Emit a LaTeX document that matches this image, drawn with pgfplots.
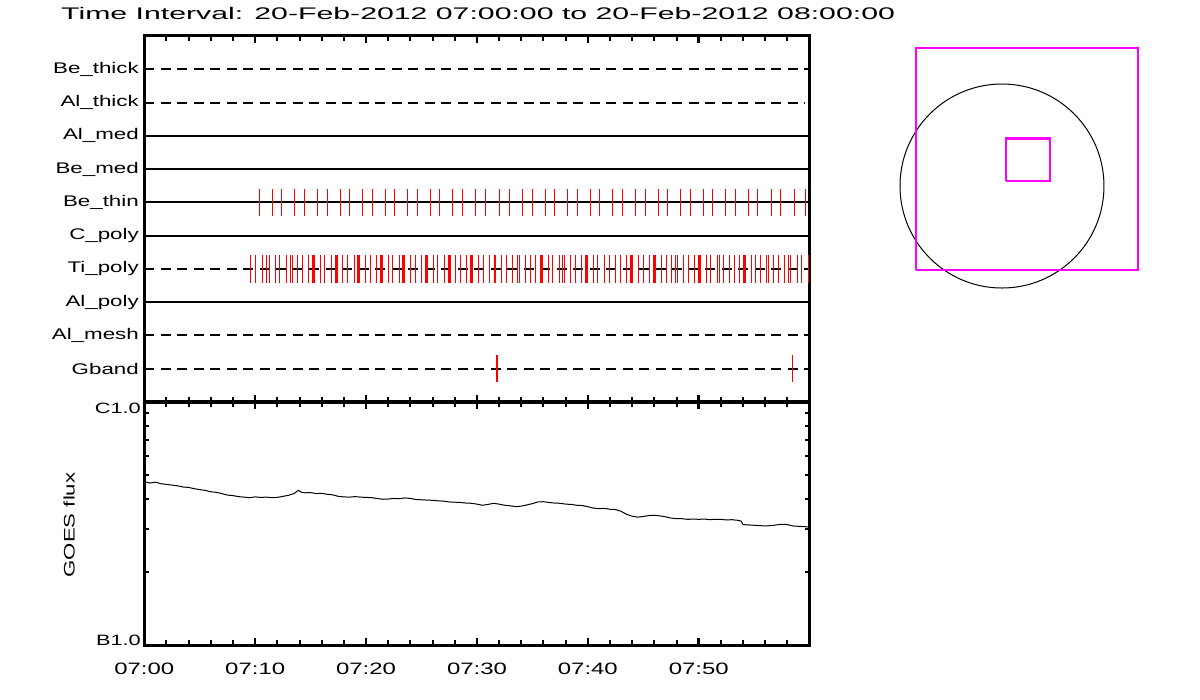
\documentclass[border=0pt]{standalone}
\usepackage{fontspec}
\setmainfont[FakeStretch=1.45]{Liberation Sans}
\newfontfamily\titlefont[FakeStretch=1.8]{Liberation Sans}
\usepackage{pgfplots}
\usepackage{pgfplotstable}
\pgfplotsset{compat=1.18}
\definecolor{mag}{RGB}{255,0,255}

% event times in minutes after 07:00, and row of the filter
\pgfplotstableread{
t row
10.37 6
11.54 6
12.35 6
13.53 6
14.43 6
15.60 6
16.50 6
17.67 6
18.49 6
19.66 6
20.56 6
21.73 6
22.54 6
23.72 6
24.62 6
25.79 6
26.60 6
27.77 6
28.67 6
29.85 6
30.75 6
32.01 6
32.91 6
34.09 6
34.99 6
36.16 6
36.97 6
38.14 6
39.04 6
40.22 6
41.03 6
42.20 6
43.10 6
44.27 6
45.18 6
46.35 6
47.16 6
48.33 6
49.23 6
50.41 6
51.22 6
52.39 6
53.29 6
54.46 6
55.27 6
56.54 6
57.35 6
58.61 6
59.60 6
}\bethin

\pgfplotstableread{
t row
9.56 4
10.01 4
10.64 4
11.00 4
11.27 4
11.81 4
12.17 4
12.80 4
13.17 4
13.35 4
13.80 4
14.25 4
14.79 4
15.21 4
15.36 4
15.87 4
16.23 4
16.86 4
17.29 4
17.42 4
17.85 4
18.30 4
18.94 4
19.27 4
19.40 4
19.93 4
20.38 4
20.92 4
21.34 4
21.48 4
22.00 4
22.36 4
22.99 4
23.33 4
23.46 4
23.99 4
24.44 4
24.98 4
25.40 4
25.54 4
26.06 4
26.42 4
27.05 4
27.48 4
27.61 4
28.04 4
28.49 4
29.04 4
29.46 4
29.59 4
30.12 4
30.57 4
31.11 4
31.56 4
31.70 4
32.19 4
32.64 4
33.18 4
33.63 4
33.81 4
34.35 4
34.81 4
35.26 4
35.77 4
35.91 4
36.43 4
36.79 4
37.42 4
37.75 4
37.89 4
38.41 4
38.86 4
39.40 4
39.83 4
39.96 4
40.49 4
40.85 4
41.48 4
41.93 4
42.47 4
42.92 4
43.46 4
43.89 4
44.02 4
44.54 4
45.00 4
45.54 4
45.96 4
46.10 4
46.62 4
47.07 4
47.52 4
47.94 4
48.08 4
48.60 4
49.05 4
49.59 4
50.02 4
50.15 4
50.68 4
51.04 4
51.67 4
51.91 4
52.21 4
52.75 4
53.20 4
53.65 4
54.08 4
54.21 4
54.73 4
55.10 4
55.55 4
56.09 4
56.27 4
56.72 4
57.17 4
57.71 4
58.13 4
58.27 4
58.88 4
59.24 4
59.87 4
}\tipoly

\pgfplotstableread{
t row
31.80 1
58.43 1
}\gband

\pgfplotstableread{
t flux
0.0 4.70e-7
0.5 4.64e-7
1.0 4.68e-7
1.5 4.61e-7
2.0 4.58e-7
2.5 4.55e-7
3.0 4.52e-7
3.5 4.47e-7
4.0 4.45e-7
4.5 4.40e-7
5.0 4.36e-7
5.5 4.33e-7
6.0 4.27e-7
6.5 4.25e-7
7.0 4.20e-7
7.5 4.14e-7
8.0 4.12e-7
8.5 4.08e-7
9.0 4.06e-7
9.5 4.04e-7
10.0 4.07e-7
10.5 4.05e-7
11.0 4.06e-7
11.5 4.04e-7
12.0 4.05e-7
12.5 4.09e-7
13.0 4.13e-7
13.5 4.20e-7
13.9 4.33e-7
14.2 4.25e-7
14.5 4.23e-7
15.0 4.24e-7
15.5 4.20e-7
16.0 4.21e-7
16.5 4.17e-7
17.0 4.15e-7
17.5 4.09e-7
18.0 4.07e-7
18.5 4.06e-7
19.0 4.08e-7
19.5 4.06e-7
20.0 4.05e-7
20.5 4.04e-7
21.0 4.01e-7
21.5 3.98e-7
22.0 3.99e-7
22.5 4.01e-7
23.0 4.00e-7
23.5 4.03e-7
24.0 4.01e-7
24.5 3.97e-7
25.0 3.96e-7
25.5 3.95e-7
26.0 3.94e-7
26.5 3.92e-7
27.0 3.91e-7
27.5 3.88e-7
28.0 3.87e-7
28.5 3.86e-7
29.0 3.84e-7
29.5 3.83e-7
30.0 3.80e-7
30.5 3.76e-7
31.0 3.79e-7
31.5 3.83e-7
32.0 3.80e-7
32.5 3.76e-7
33.0 3.74e-7
33.5 3.71e-7
34.0 3.73e-7
34.5 3.77e-7
35.0 3.82e-7
35.5 3.88e-7
36.0 3.89e-7
36.5 3.86e-7
37.0 3.84e-7
37.5 3.83e-7
38.0 3.80e-7
38.5 3.79e-7
39.0 3.76e-7
39.5 3.75e-7
40.0 3.71e-7
40.5 3.66e-7
41.0 3.64e-7
41.5 3.65e-7
42.0 3.62e-7
42.5 3.61e-7
43.0 3.55e-7
43.5 3.45e-7
44.0 3.39e-7
44.5 3.36e-7
45.0 3.38e-7
45.5 3.41e-7
46.0 3.42e-7
46.5 3.40e-7
47.0 3.37e-7
47.5 3.33e-7
48.0 3.31e-7
48.5 3.31e-7
49.0 3.29e-7
49.5 3.30e-7
50.0 3.29e-7
50.5 3.30e-7
51.0 3.28e-7
51.5 3.29e-7
52.0 3.29e-7
52.5 3.27e-7
53.0 3.28e-7
53.5 3.26e-7
53.8 3.24e-7
54.0 3.13e-7
54.5 3.12e-7
55.0 3.11e-7
55.5 3.10e-7
56.0 3.09e-7
56.5 3.10e-7
57.0 3.12e-7
57.5 3.14e-7
58.0 3.13e-7
58.5 3.09e-7
59.0 3.08e-7
59.5 3.07e-7
60.0 3.06e-7
}\goes

\pgfplotsset{
  panel/.style={
    scale only axis,
    width=665.3pt,
    xmin=0, xmax=60,
    axis line style={line width=3pt, line cap=rect},
    tick align=inside,
    major tick length=7pt,
    minor tick length=5pt,
    every major tick/.append style={line width=2.5pt, black},
    every minor tick/.append style={line width=2pt, black},
    xtick={0,10,20,30,40,50,60},
    minor xtick={2,4,6,8,12,14,16,18,22,24,26,28,32,34,36,38,42,44,46,48,52,54,56,58},
    xtick pos=both,
  },
  row/.style={line width=2pt, black, forget plot},
  dashrow/.style={line width=2pt, black, dash pattern=on 10pt off 6.5pt, forget plot},
  ev/.style={only marks, mark=|, mark size=13.5pt, red, mark options={line width=1.2pt, red}, forget plot},
}

\begin{document}
\begin{tikzpicture}
\useasboundingbox (0,0) rectangle (1200pt,700pt);

\node[anchor=base west, inner sep=0pt, font=\titlefont\fontsize{16.8}{20}\selectfont] at (61pt,680.7pt)
  {Time Interval: 20-Feb-2012 07:00:00 to 20-Feb-2012 08:00:00};

% ---- top panel: filter / event rows
\begin{axis}[panel,
  at={(144.3pt,298pt)}, anchor=south west,
  height=366pt,
  ymin=0, ymax=11,
  ytick={1,2,3,4,5,6,7,8,9,10},
  yticklabels={Gband,Al\_mesh,Al\_poly,Ti\_poly,C\_poly,Be\_thin,Be\_med,Al\_med,Al\_thick,Be\_thick},
  ytick style={draw=none},
  yticklabel style={font=\fontsize{15.4}{18}\selectfont, xshift=-2pt},
  xticklabel=\empty,
  clip=false,
]
\addplot[ev] table[x=t, y=row] {\bethin};
\addplot[ev, mark size=14pt] table[x=t, y=row] {\tipoly};
\addplot[ev] table[x=t, y=row] {\gband};

\addplot[dashrow] coordinates {(0,10) (60,10)};
\addplot[dashrow] coordinates {(0,9) (59.6,9)};
\addplot[row] coordinates {(0,8) (60,8)};
\addplot[row] coordinates {(0,7) (60,7)};
\addplot[row] coordinates {(0,6) (60,6)};
\addplot[row] coordinates {(0,5) (60,5)};
\addplot[dashrow] coordinates {(0,4) (60,4)};
\addplot[row] coordinates {(0,3) (60,3)};
\addplot[dashrow] coordinates {(0,2) (60,2)};
\addplot[dashrow] coordinates {(0,1) (60,1)};
\end{axis}

% ---- bottom panel: GOES flux
\begin{axis}[panel,
  at={(144.3pt,55pt)}, anchor=south west,
  height=243pt,
  ymode=log,
  ymin=1e-7, ymax=1e-6,
  ytick={1e-7},
  yticklabels={B1.0},
  extra y ticks={1e-6},
  extra y tick labels={C1.0},
  extra y tick style={yticklabel style={yshift=-11pt}},
  yticklabel style={font=\fontsize{15}{18}\selectfont, yshift=5pt},
  minor ytick={2e-7,3e-7,4e-7,5e-7,6e-7,7e-7,8e-7,9e-7},
  ytick pos=both,
  xticklabels={07:00,07:10,07:20,07:30,07:40,07:50,},
  xticklabel style={font=\fontsize{16.5}{20}\selectfont, yshift=-14pt},
  ylabel={GOES flux},
  ylabel style={font=\fontsize{15.3}{18}\selectfont, at={(axis description cs:-0.113,0.494)}, anchor=center},
]
\addplot[black, line width=1pt] table[x=t, y=flux] {\goes};
\end{axis}

% ---- right panel: field of view on the solar disk (arcsec)
\begin{axis}[
  at={(875.8pt,398.3pt)}, anchor=south west,
  scale only axis, width=273.4pt, height=262.9pt,
  xmin=-1200, xmax=1400, ymin=-1100, ymax=1400,
  hide axis, clip=false,
]
\draw[black, line width=1pt] (axis cs:0,0) circle [radius=970];
\addplot[mag, line width=1.5pt, line join=miter] coordinates {(-820,-799) (1293,-799) (1293,1312) (-820,1312) (-820,-799)};
\addplot[mag, line width=2.5pt, line join=miter] coordinates {(38,48) (456,48) (456,454) (38,454) (38,48)};
\end{axis}
\end{tikzpicture}
\end{document}
